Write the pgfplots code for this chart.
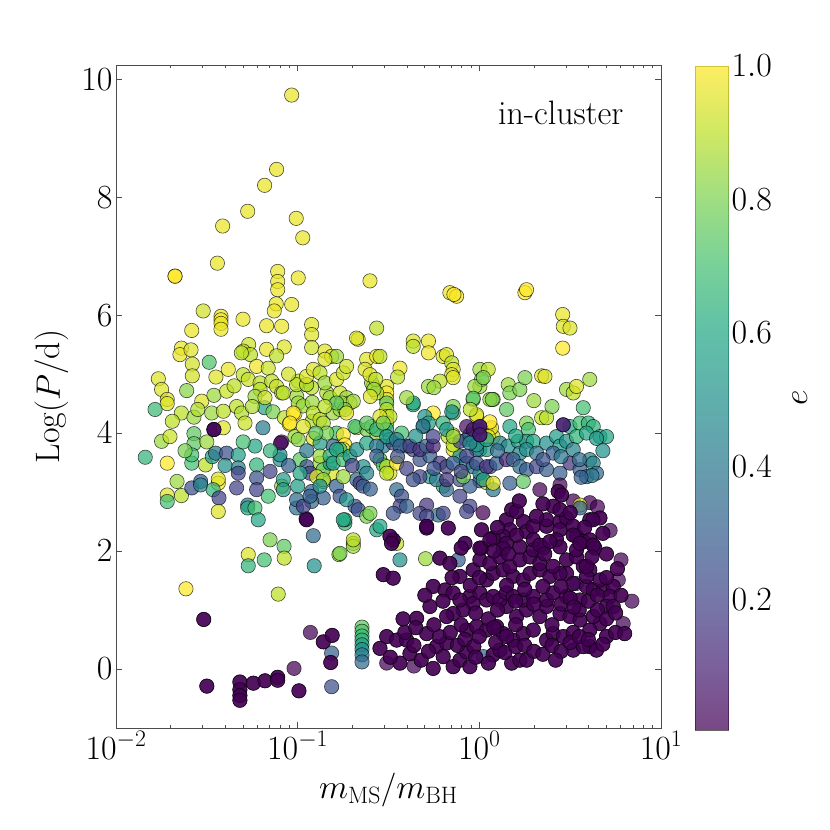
\RequirePackage{fix-cm}
\documentclass[border=0pt]{standalone}
\usepackage{fontspec}
\usepackage{pgfplots}
\usepackage{pgfplotstable}
\pgfplotsset{compat=1.18}
\pgfplotsset{colormap={vir}{rgb255=(68,1,84) rgb255=(72,36,117) rgb255=(65,68,135) rgb255=(53,95,141) rgb255=(42,120,142) rgb255=(33,145,140) rgb255=(34,168,132) rgb255=(68,191,112) rgb255=(122,209,81) rgb255=(189,223,38) rgb255=(253,231,37)}}

\pgfplotstableread{
x y e
-1.033 9.73 0.97
-1.116 8.47 0.97
-1.182 8.20 0.97
-1.275 7.76 0.97
-1.413 7.51 0.97
-1.008 7.64 0.97
-0.972 7.31 0.97
-1.442 6.88 0.97
-1.110 6.74 0.97
-1.110 6.57 0.97
-1.110 6.43 0.97
-0.997 6.63 0.97
-0.602 6.58 0.97
-1.118 6.19 0.97
-1.033 6.18 0.97
-1.129 6.07 0.97
-1.088 5.81 0.97
-1.171 5.82 0.97
-1.520 6.07 0.93
-1.422 5.98 0.97
-1.422 5.92 1.0
-1.422 5.86 0.97
-1.422 5.76 0.97
-1.301 5.93 0.97
-1.583 5.74 0.97
-0.923 5.84 0.95
-0.923 5.67 0.95
-0.923 5.45 0.93
-1.640 5.44 0.97
-1.648 5.33 0.97
-1.587 5.41 0.95
-1.487 5.20 0.72
-1.580 5.17 0.93
-1.580 4.97 0.93
-1.382 5.08 0.97
-1.270 5.50 0.93
-1.300 5.39 0.90
-1.260 5.33 0.90
-1.310 5.36 0.90
-1.171 5.42 0.97
-1.074 5.46 0.95
-1.116 5.31 0.90
-1.226 5.13 0.98
-1.162 5.10 0.92
-1.767 4.92 0.95
-1.749 4.74 0.95
-1.718 4.57 0.95
-1.718 4.50 0.95
-1.611 4.72 0.82
-1.528 4.54 0.95
-1.461 4.64 0.85
-1.391 4.71 0.92
-1.300 4.99 0.90
-1.272 4.91 0.92
-1.207 4.85 0.90
-1.207 4.74 0.90
-1.235 4.62 0.85
-1.143 4.88 0.90
-1.116 4.79 0.92
-1.088 4.68 0.88
-0.997 4.88 0.90
-0.951 4.82 0.92
-0.923 4.77 0.90
-1.005 4.62 0.85
-0.997 4.51 0.85
-1.785 4.40 0.68
-1.640 4.34 0.90
-1.571 4.27 0.85
-1.473 4.34 0.85
-1.409 4.37 0.90
-1.336 4.45 0.90
-1.309 4.34 0.88
-1.290 4.17 0.92
-1.182 4.43 0.60
-1.136 4.36 0.80
-1.073 4.26 0.90
-1.015 4.33 1.0
-1.046 4.15 1.0
-0.970 4.46 0.85
-0.920 4.52 0.85
-0.920 4.20 0.88
-1.461 4.06 0.02
-1.409 4.09 0.95
-1.191 4.09 0.42
-1.088 3.85 0.10
-1.749 3.86 0.85
-1.571 3.99 0.75
-1.571 3.82 0.75
-1.703 3.94 0.92
-1.839 3.59 0.65
-1.718 3.49 1.0
-1.664 3.18 0.85
-1.718 2.95 0.95
-1.718 2.84 0.70
-1.640 2.94 0.90
-1.583 3.07 0.25
-1.534 3.18 0.30
-1.534 3.12 0.45
-1.583 3.49 0.70
-1.583 3.63 0.70
-1.507 3.46 0.90
-1.470 3.60 0.55
-1.452 3.66 0.40
-1.437 3.15 1.0
-1.437 3.22 0.95
-1.465 3.04 0.65
-1.433 2.90 0.20
-1.437 2.67 0.95
-1.391 3.66 0.25
-1.327 3.63 0.55
-1.327 3.41 0.45
-1.327 3.32 0.20
-1.336 3.07 0.20
-1.275 2.78 0.40
-1.275 2.73 0.60
-1.235 2.73 0.70
-1.217 2.53 0.60
-1.235 3.78 0.60
-1.226 3.46 0.65
-1.226 3.24 0.25
-1.226 3.04 0.20
-1.152 3.35 0.20
-1.162 2.93 0.70
-1.097 3.55 0.50
-1.097 3.63 0.50
-1.088 3.10 0.85
-1.094 3.83 0.0
-1.152 2.19 0.80
-1.075 2.08 0.75
-1.074 1.88 0.90
-1.272 1.94 0.95
-1.272 1.75 0.65
-1.184 1.85 0.70
-1.107 1.27 0.90
-0.914 2.26 0.35
-0.909 1.75 0.50
-1.000 3.10 0.55
-1.006 2.73 0.35
-0.954 2.55 0.10
-0.923 3.01 0.30
-0.859 2.90 0.30
-0.923 2.84 0.35
-0.740 2.47 0.65
-0.740 2.53 0.65
-0.694 2.13 0.85
-0.694 2.08 0.85
-0.773 1.94 0.85
-0.685 2.76 0.25
-0.667 2.70 0.25
-0.813 3.32 0.95
-0.859 3.18 0.90
-1.615 1.36 1.0
-1.020 0.01 0.0
-0.930 0.62 0.0
-0.813 0.27 0.30
-0.813 -0.30 0.25
-0.646 0.71 0.75
-0.646 0.64 0.72
-0.646 0.56 0.68
-0.646 0.49 0.65
-0.646 0.41 0.58
-0.646 0.33 0.50
-0.646 0.24 0.42
-0.646 0.12 0.35
-1.079 4.68 0.90
-1.006 4.82 0.90
-0.951 4.82 0.88
-0.840 4.68 0.88
-0.822 4.60 0.85
-0.767 4.68 0.92
-0.731 4.60 0.85
-0.712 4.51 0.95
-1.024 4.34 1.0
-1.042 4.17 1.0
-0.914 4.34 0.90
-0.877 4.23 0.90
-0.859 4.17 0.88
-0.804 4.34 0.85
-0.767 4.40 0.85
-1.015 3.94 0.85
-0.997 3.89 0.82
-0.914 3.91 0.95
-0.786 4.00 0.70
-0.749 3.97 1.0
-0.740 3.80 1.0
-0.749 3.72 0.95
-0.675 4.09 0.85
-0.620 4.06 0.80
-0.565 4.00 0.85
-0.593 4.11 0.75
-0.510 4.79 0.95
-0.510 4.68 1.0
-0.510 4.57 0.95
-0.510 4.51 0.75
-0.584 4.79 0.85
-0.593 4.85 0.85
-0.565 4.68 0.88
-0.510 4.40 0.90
-0.510 4.28 0.95
-0.510 4.17 0.85
-0.510 4.06 0.60
-0.492 3.89 0.60
-0.529 3.78 0.40
-0.364 4.48 0.65
-0.428 4.00 0.70
-0.309 4.11 0.60
-0.254 4.34 1.0
-0.199 4.17 0.65
-0.171 3.94 0.90
-0.144 3.97 0.95
-0.144 3.72 0.95
-0.107 3.61 0.50
-0.144 4.34 0.70
-0.015 4.28 0.95
0.058 4.06 1.0
0.076 3.94 0.95
-0.034 4.57 0.75
0.076 4.57 0.85
0.003 4.79 0.85
-0.070 3.89 0.50
-0.034 3.89 0.60
0.003 3.72 0.50
0.040 3.72 0.55
-0.199 3.10 0.65
-0.181 3.04 0.35
-0.107 2.93 0.20
0.003 3.19 0.20
0.040 3.16 0.90
-0.052 2.76 0.20
-0.070 2.67 0.20
-0.226 2.61 0.40
-0.290 2.78 0.15
-0.749 2.53 0.60
-0.694 2.19 0.90
-0.767 1.96 0.80
-0.620 2.59 0.80
-0.565 2.36 0.60
-0.199 2.64 0.20
-0.987 3.55 0.75
-0.950 3.43 0.25
-0.932 3.32 0.20
-0.987 3.32 0.60
-0.877 3.49 0.85
-0.859 3.38 0.75
-0.895 3.26 0.95
-0.859 3.21 0.85
-0.877 3.10 0.50
-1.079 3.21 0.55
-1.079 3.04 0.55
-1.006 2.87 0.35
-0.969 2.76 0.20
-0.932 2.93 0.30
-0.804 3.78 0.30
-0.767 3.72 0.65
-0.822 3.49 0.55
-0.786 3.10 0.30
-0.767 2.93 0.25
-0.731 2.87 0.50
-0.675 3.21 0.35
-0.657 3.15 0.15
-0.639 3.10 0.30
-0.639 3.43 0.50
-0.620 3.32 0.45
-0.547 3.55 0.75
-0.529 3.46 0.70
-0.510 3.43 0.90
-0.492 3.32 0.95
-0.455 3.04 0.35
-0.428 2.93 0.25
-0.437 2.76 0.20
-0.400 2.76 0.30
-0.474 2.64 0.25
-0.327 2.64 0.20
-0.290 2.59 0.20
-0.602 2.64 0.80
-0.547 2.42 0.60
-0.474 3.83 0.25
-0.400 3.78 0.30
-0.364 3.72 0.20
-0.327 3.55 0.25
-0.272 3.61 0.30
-0.217 3.49 0.15
-0.180 3.43 0.20
-0.144 3.49 0.30
-0.070 3.49 0.40
-0.034 3.43 0.35
0.003 3.32 0.50
0.058 3.43 0.25
-0.015 3.72 0.45
-0.272 3.26 0.55
-0.236 3.21 0.40
-0.327 3.26 0.20
-0.364 3.21 0.25
-0.180 3.21 0.15
-0.107 3.21 0.25
-0.052 3.10 0.30
0.076 3.04 0.40
-0.162 6.38 0.98
-0.125 6.32 0.98
-0.140 6.35 1.0
-0.850 5.39 0.95
-0.813 5.30 0.95
-0.786 5.30 0.85
-0.850 5.25 0.95
-0.667 5.59 0.95
-0.676 5.61 0.95
-0.565 5.78 0.90
-0.620 5.25 0.95
-0.565 5.30 1.0
-0.547 5.30 0.90
-0.629 5.08 0.95
-0.602 4.99 0.95
-0.570 4.91 0.90
-0.580 4.74 0.85
-0.600 4.62 0.95
-0.437 5.10 0.98
-0.364 5.56 0.95
-0.364 5.47 0.90
-0.280 5.56 0.97
-0.280 5.36 0.98
-0.364 4.51 0.60
-0.199 5.30 0.95
-0.181 5.33 0.95
-0.152 5.19 0.90
-0.144 5.08 0.95
-0.152 4.99 0.95
-0.144 4.94 0.95
-0.217 4.88 0.90
-0.280 4.79 0.85
-0.250 4.77 0.85
-0.144 4.45 0.80
-0.152 4.36 0.50
-0.300 4.28 0.50
-0.280 4.17 0.55
-0.310 4.12 0.35
0.003 5.08 0.85
0.049 5.08 0.90
0.012 4.91 0.80
-0.025 4.79 0.85
-0.034 4.59 0.75
-0.015 4.31 0.95
0.058 4.57 0.85
0.012 4.06 0.05
0.067 4.09 0.98
0.049 3.94 0.95
-0.144 3.80 0.90
-0.107 3.86 0.20
-0.052 3.97 0.30
-0.015 3.80 0.55
-0.951 4.96 0.95
-0.914 5.08 0.95
-0.877 5.02 0.90
-0.850 4.85 0.85
-0.786 4.91 0.95
-0.749 5.02 0.92
-0.731 5.13 0.93
-0.758 4.51 0.85
-0.694 4.54 0.85
-0.740 4.40 0.80
-0.786 4.51 0.75
-0.731 4.34 0.95
-0.685 4.11 0.70
-0.620 4.17 0.75
-0.565 4.06 0.65
-0.492 4.28 0.90
-0.547 4.28 0.95
-0.529 4.17 0.80
-0.969 4.11 0.95
-0.877 3.83 0.55
-0.840 4.00 0.80
-0.877 3.61 0.85
-0.822 3.61 0.65
-0.786 3.72 0.60
-0.804 3.49 0.60
-0.749 3.55 0.70
-0.712 3.61 0.55
-0.749 3.26 0.85
-0.675 3.72 0.50
-0.620 3.83 0.60
-0.565 3.78 0.40
-0.510 3.94 0.55
-0.455 3.89 0.45
-0.455 3.49 1.0
-0.510 3.32 0.90
-0.565 3.61 0.30
-0.437 3.78 0.30
-0.382 3.78 0.20
-0.327 3.72 0.15
-0.290 3.78 0.30
-0.254 3.78 0.10
-0.254 3.94 0.20
-0.180 4.06 0.55
-0.144 3.94 0.85
-0.070 4.11 0.05
-0.034 4.06 0.05
0.251 6.38 1.0
0.260 6.43 1.0
0.459 6.01 0.97
0.462 5.81 0.95
0.499 5.78 0.95
0.459 5.44 1.0
0.022 4.94 0.80
0.071 4.57 0.80
0.159 4.82 0.85
0.168 4.68 0.80
0.223 4.74 0.80
0.251 4.94 0.80
0.343 4.97 0.95
0.361 4.96 0.95
0.480 4.74 0.85
0.517 4.68 0.90
0.535 4.79 0.95
0.608 4.91 0.85
0.572 4.43 0.70
0.058 4.19 1.0
0.168 4.11 0.60
0.260 4.17 0.80
0.270 4.06 0.70
0.343 4.26 0.90
0.370 4.26 0.90
0.499 4.11 0.60
0.554 4.17 0.70
0.600 4.17 0.65
0.627 4.11 0.65
0.664 3.94 0.55
0.700 3.94 0.60
0.113 3.83 0.45
0.159 3.78 0.50
0.214 3.86 0.55
0.260 3.86 0.55
0.297 3.86 0.60
0.370 3.83 0.50
0.425 3.94 0.55
0.444 3.78 0.55
0.480 3.86 0.50
0.535 3.94 0.65
0.590 4.00 0.60
0.645 3.91 0.55
-0.052 3.83 0.45
0.040 3.89 0.55
0.223 3.66 0.45
0.260 3.72 0.50
0.315 3.66 0.40
0.406 3.66 0.30
0.517 3.72 0.45
0.608 3.55 0.45
0.627 3.49 0.45
-0.070 3.61 0.20
-0.015 3.49 0.25
0.040 3.43 0.15
0.095 3.49 0.30
0.149 3.55 0.10
0.186 3.55 0.30
0.223 3.43 0.35
0.260 3.38 0.30
0.315 3.43 0.20
0.370 3.38 0.30
0.444 3.32 0.30
0.499 3.49 0.15
0.554 3.38 0.30
0.590 3.26 0.35
0.645 3.32 0.35
0.620 3.28 0.40
0.560 3.25 0.30
-0.088 3.26 0.80
0.022 3.21 0.55
0.076 3.15 0.95
0.168 3.15 0.30
0.242 3.18 0.75
0.333 3.04 0.0
0.517 2.85 0.0
0.608 2.82 0.0
0.765 1.51 0.0
0.792 0.77 0.0
-0.510 0.10 0.0
0.022 0.21 0.30
0.535 1.45 0.30
-0.116 1.85 0.30
-0.296 1.87 0.85
-0.437 1.85 0.50
-0.455 2.13 0.90
0.554 2.78 0.95
0.554 2.73 0.30
0.444 3.12 0.02
-1.350 4.80 0.90
-1.250 4.45 0.88
-1.180 4.60 0.92
-1.050 5.00 0.93
-1.450 4.95 0.95
-1.550 4.40 0.88
-1.690 4.20 0.90
-1.620 3.70 0.80
-1.500 3.85 0.85
-1.400 3.45 0.50
-1.300 3.85 0.70
-1.150 3.70 0.65
-1.050 3.45 0.30
-0.950 3.70 0.40
-0.900 4.00 0.75
-0.700 3.45 0.20
-0.600 3.05 0.30
-0.450 3.60 0.25
-0.400 3.40 0.20
-0.350 3.95 0.50
-0.250 3.40 0.25
-0.100 3.35 0.20
0.100 3.70 0.35
0.200 3.95 0.60
0.350 3.55 0.25
0.450 3.60 0.40
0.550 3.55 0.35
0.680 3.70 0.50
0.300 4.55 0.85
0.400 4.45 0.80
0.150 4.40 0.75
-0.050 4.40 0.90
-0.400 4.60 0.85
-0.450 4.95 0.90
-0.850 4.45 0.90
0.720 2.35 0.0
0.780 1.85 0.0
0.840 1.15 0.0
-0.360 0.05 0.0
0.020 2.65 0.0
0.650 2.75 0.0
}\upper

\pgfplotstableread{
x y e
0.012 2.36 0
0.012 2.05 0
0.149 2.53 0
0.168 2.36 0
0.131 2.25 0
0.149 2.13 0
0.242 2.50 0
0.260 2.33 0
0.297 2.42 0
0.370 2.42 0
0.370 2.53 0
0.444 2.50 0
0.444 2.36 0
0.425 2.19 0
0.480 2.56 0
0.517 2.42 0
0.608 2.53 0
0.664 2.56 0
0.625 2.53 0
0.178 2.70 0
0.205 2.67 0
0.315 2.59 0
0.406 2.76 0
0.444 2.70 0
0.434 3.01 0
0.453 2.95 0
0.535 2.25 0
0.572 2.16 0
0.608 2.19 0
0.636 2.05 0
0.608 1.68 0
0.572 1.74 0
0.480 1.62 0
0.517 1.45 0
0.590 1.40 0
0.627 1.34 0
0.682 1.34 0
0.737 1.40 0
0.718 1.23 0
0.700 1.06 0
0.737 1.06 0
0.664 0.77 0
0.608 0.66 0
0.517 0.32 0
0.608 0.38 0
0.645 0.32 0
-0.052 1.23 0
-0.034 1.11 0
-0.089 1.00 0
-0.144 0.94 0
-0.180 0.89 0
-0.272 1.06 0
-0.345 0.86 0
-0.254 1.40 0
-0.189 1.34 0
-0.529 1.60 0
-0.474 1.54 0
-0.290 2.39 0
-0.217 1.88 0
-0.162 1.79 0
-0.474 2.19 0
-0.510 0.55 0
-0.455 0.49 0
-0.400 0.49 0
-0.437 0.10 0
-0.382 0.26 0
-0.290 0.60 0
-0.236 0.38 0
-0.180 0.44 0
-0.199 0.21 0
-0.254 0.01 0
-0.144 0.04 0
-0.107 0.15 0
-0.052 0.04 0
-0.070 0.29 0
0.076 0.24 0
0.113 0.32 0
0.178 0.10 0
0.223 0.15 0
0.260 0.15 0
0.149 1.06 0
0.205 0.89 0
0.260 1.00 0
0.333 0.89 0
0.370 1.06 0
0.444 0.94 0
0.499 0.89 0
0.554 0.83 0
0.627 0.89 0
-0.070 0.66 0
-0.015 0.72 0
0.040 0.66 0
0.095 0.72 0
0.131 0.60 0
0.186 0.49 0
0.242 0.60 0
0.297 0.66 0
0.370 0.49 0
0.406 0.60 0
0.462 0.55 0
0.517 0.62 0
0.572 0.38 0
-0.144 1.29 0
-0.107 1.17 0
0.003 1.29 0
0.040 1.17 0
0.076 1.23 0
0.113 1.17 0
0.149 1.29 0
0.186 1.23 0
0.242 1.17 0
0.297 1.23 0
0.370 1.17 0
0.406 1.29 0
0.480 1.23 0
0.554 1.17 0
-0.107 1.57 0
-0.034 1.68 0
0.040 1.51 0
0.076 1.62 0
0.131 1.68 0
0.186 1.57 0
0.242 1.51 0
0.279 1.62 0
0.333 1.68 0
0.388 1.57 0
0.444 1.62 0
0.590 1.57 0
0.664 1.51 0
0.003 1.85 0
0.058 1.79 0
0.113 1.90 0
0.168 1.74 0
0.223 1.85 0
0.279 1.90 0
0.333 1.79 0
0.406 1.74 0
0.480 1.85 0
0.535 1.90 0
0.590 1.74 0
0.131 2.04 0
0.223 2.07 0
0.297 2.02 0
0.352 2.05 0
0.444 2.07 0
0.535 2.02 0
0.076 2.22 0
0.205 2.27 0
0.297 2.19 0
0.333 2.10 0
0.388 2.16 0
0.517 2.27 0
0.554 2.13 0
0.627 2.10 0
-0.547 0.35 0
-0.490 0.20 0
-0.410 0.62 0
-0.360 0.40 0
-0.320 0.15 0
-0.280 0.30 0
-0.220 0.55 0
-0.160 0.62 0
-0.120 0.40 0
-0.080 0.50 0
-0.030 0.38 0
0.000 0.55 0
0.050 0.10 0
0.090 0.45 0
0.140 0.28 0
0.200 0.38 0
0.250 0.40 0
0.300 0.30 0
0.350 0.25 0
0.400 0.40 0
0.450 0.30 0
0.500 0.45 0
0.550 0.55 0
0.600 0.50 0
0.700 0.55 0
0.750 0.62 0
-0.250 0.75 0
-0.200 1.15 0
-0.100 0.75 0
-0.020 0.95 0
0.050 0.85 0
0.100 1.00 0
0.080 0.70 0
0.200 0.75 0
0.300 1.10 0
0.400 0.75 0
0.450 1.10 0
0.500 1.20 0
0.550 1.00 0
0.650 1.00 0
0.700 0.85 0
0.750 0.95 0
0.600 1.15 0
0.650 1.25 0
0.700 1.55 0
0.350 1.40 0
0.150 1.42 0
-0.050 1.42 0
0.250 1.35 0
0.450 1.40 0
-0.290 2.42 0
-0.171 2.39 0
-0.079 2.13 0
0.003 2.05 0
0.058 2.19 0
-0.951 2.53 0
-0.492 2.25 0
-0.483 2.13 0
0.100 2.40 0
0.220 2.85 0
0.350 2.80 0
0.500 2.65 0
0.580 2.40 0
0.680 2.30 0
0.700 1.95 0
0.760 1.70 0
0.780 1.25 0
0.800 0.60 0
0.680 0.42 0
0.420 0.15 0
0.150 0.55 0
-0.020 0.20 0
-0.350 0.70 0
-0.420 0.85 0
-0.150 1.55 0
-0.300 1.25 0
0.000 1.55 0
0.200 1.15 0
0.360 1.95 0
0.160 1.95 0
0.080 2.00 0
-0.100 2.05 0
0.620 1.90 0
0.520 1.05 0
-1.675 6.66 1.0
-1.318 -0.22 0
-1.318 -0.35 0
-1.318 -0.45 0
-1.318 -0.53 0
-1.517 0.84 0
-1.500 -0.29 0
-1.244 -0.24 0
-1.180 -0.20 0
-1.110 -0.14 0
-1.110 -0.19 0
-0.993 -0.37 0
-0.859 0.46 0
-0.810 0.57 0
-0.818 0.11 0
0.003 4.11 0.08
0.003 3.97 0.08
-1.461 4.06 0.02
0.462 4.14 0.10
}\cluster

\begin{document}
\begin{tikzpicture}
\path[use as bounding box] (0,0) rectangle (830bp,830bp);
\begin{axis}[
  at={(116bp,102bp)}, anchor=south west, scale only axis,
  width=545bp, height=663bp,
  colormap name=vir,
  xmin=-2, xmax=1, ymin=-1, ymax=10.24,
  xtick={-2,-1,0,1},
  xticklabels={$10^{-2}$,$10^{-1}$,$10^{0}$,$10^{1}$},
  minor xtick={-1.69897,-1.52288,-1.39794,-1.30103,-1.22185,-1.15490,-1.09691,-1.04576,
               -0.69897,-0.52288,-0.39794,-0.30103,-0.22185,-0.15490,-0.09691,-0.04576,
               0.30103,0.47712,0.60206,0.69897,0.77815,0.84510,0.90309,0.95424},
  ytick={0,2,4,6,8,10},
  xtick pos=both, ytick pos=both,
  tick align=inside,
  major tick length=6bp, minor tick length=3.5bp,
  every tick/.style={black!70, line width=0.7pt},
  axis line style={black!70, line width=0.8pt},
  font=\fontsize{34}{40}\selectfont,
  every axis x label/.style={at={(axis description cs:0.5,-0.1056)}, anchor=base},
  every axis y label/.style={at={(axis description cs:-0.1028,0.5)}, rotate=90, anchor=base},
  xlabel={$m_{\rm MS}/m_{\rm BH}$},
  ylabel={Log$(P/\mathrm{d})$},
  point meta min=0.005, point meta max=1,
  clip=true,
]
\addplot[scatter, only marks, mark=*, mark size=7.2pt, scatter src=explicit,
  scatter/use mapped color={draw=black, fill=mapped color},
  mark options={fill opacity=0.72, draw opacity=0.7, line width=0.6pt}]
  table[x=x, y=y, meta=e] {\upper};
\addplot[scatter, only marks, mark=*, mark size=7.2pt, scatter src=explicit,
  scatter/use mapped color={draw=black, fill=mapped color},
  mark options={fill opacity=0.72, draw opacity=0.7, line width=0.6pt}]
  table[x=x, y=y, meta=e] {\cluster};
\addplot[scatter, only marks, mark=*, mark size=7.2pt, scatter src=explicit,
  scatter/use mapped color={draw=black, fill=mapped color},
  mark options={fill opacity=0.72, draw opacity=0.7, line width=0.6pt}]
  table[x=x, y=y, meta=e] {\cluster};
\node[anchor=base east, font=\fontsize{34}{40}\selectfont] at (rel axis cs:0.9376,0.911) {in-cluster};
\end{axis}
\begin{axis}[
  at={(695bp,100bp)}, anchor=south west, scale only axis,
  width=33bp, height=664bp,
  colormap name=vir,
  xmin=0, xmax=1, ymin=0.005, ymax=1,
  xtick=\empty, ytick={0.2,0.4,0.6,0.8,1.0},
  yticklabel pos=right,
  yticklabel style={/pgf/number format/.cd, fixed, fixed zerofill, precision=1},
  major tick length=0pt,
  axis line style={black!60, line width=0.7pt},
  font=\fontsize{34}{40}\selectfont,
  every axis y label/.style={at={(axis description cs:3.18,0.5)}, rotate=90, anchor=center},
  ylabel={$e$},
  point meta min=0.005, point meta max=1,
]
\addplot[surf, shader=interp, opacity=0.72, point meta=y, mesh/rows=2] coordinates {(0,0.005) (1,0.005) (0,1) (1,1)};
\end{axis}
\end{tikzpicture}
\end{document}
